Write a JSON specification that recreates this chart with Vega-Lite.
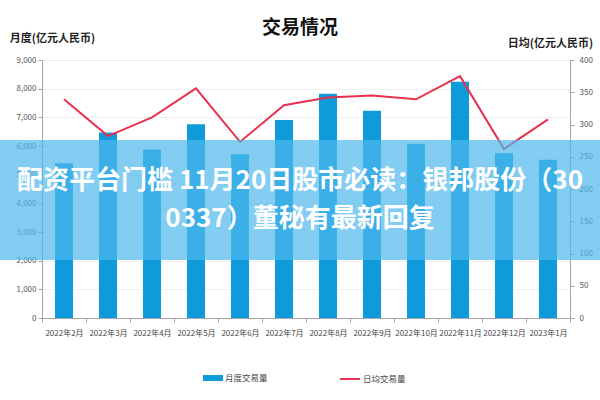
{
  "$schema": "https://vega.github.io/schema/vega-lite/v6.json",
  "width": 528,
  "height": 258,
  "autosize": {"type": "none"},
  "padding": {"left": 42, "top": 60, "right": 30, "bottom": 82},
  "background": "white",
  "title": {
    "text": "交易情况",
    "font": "Noto Sans CJK SC",
    "fontSize": 19,
    "fontWeight": "bold",
    "color": "#111111",
    "anchor": "middle",
    "dx": -6,
    "offset": -6
  },
  "config": {
    "view": {"stroke": null},
    "axis": {
      "labelFont": "Noto Sans CJK SC",
      "labelFontSize": 8,
      "labelColor": "#555555",
      "domainColor": "#a6a6a6",
      "tickColor": "#a6a6a6",
      "titleFont": "Noto Sans CJK SC"
    },
    "legend": {
      "labelFont": "Noto Sans CJK SC",
      "labelFontSize": 8.5,
      "labelColor": "#444444"
    }
  },
  "layer": [
    {
      "data": {"name": "trade", "values": [
        {"month": "2022年2月", "monthly": 5400, "daily": 339},
        {"month": "2022年3月", "monthly": 6470, "daily": 282},
        {"month": "2022年4月", "monthly": 5880, "daily": 311},
        {"month": "2022年5月", "monthly": 6760, "daily": 356},
        {"month": "2022年6月", "monthly": 5710, "daily": 273},
        {"month": "2022年7月", "monthly": 6910, "daily": 330},
        {"month": "2022年8月", "monthly": 7820, "daily": 342},
        {"month": "2022年9月", "monthly": 7230, "daily": 345},
        {"month": "2022年10月", "monthly": 6080, "daily": 339},
        {"month": "2022年11月", "monthly": 8240, "daily": 375},
        {"month": "2022年12月", "monthly": 5745, "daily": 262},
        {"month": "2023年1月", "monthly": 5520, "daily": 308}
      ]},
      "mark": {"type": "bar", "width": {"band": 0.41}},
      "encoding": {
        "x": {
          "field": "month", "type": "nominal", "sort": null,
          "scale": {"paddingInner": 0, "paddingOuter": 0},
          "axis": {"title": null, "labelAngle": 0, "tickBand": "extent", "tickSize": 4, "labelPadding": 7, "labelFontSize": 8, "labelColor": "#444444"}
        },
        "y": {
          "field": "monthly", "type": "quantitative",
          "scale": {"domain": [0, 9000], "nice": false},
          "axis": {
            "orient": "left",
            "values": [0, 1000, 2000, 3000, 4000, 5000, 6000, 7000, 8000, 9000],
            "format": ",.0f",
            "tickSize": 4,
            "labelPadding": 2,
            "grid": true,
            "gridColor": "#eeeeee",
            "title": "月度(亿元人民币)",
            "titleAngle": 0,
            "titleX": 10,
            "titleY": -22,
            "titleAlign": "center",
            "titleBaseline": "middle",
            "titleFontSize": 11,
            "titleFontWeight": "bold",
            "titleColor": "#222222"
          }
        },
        "fill": {
          "datum": "月度交易量",
          "scale": {"range": ["#0f9ad9"]},
          "legend": {
            "title": null,
            "orient": "none",
            "legendX": 161,
            "legendY": 308,
            "symbolType": "M-1,-0.3H1V0.3H-1Z",
            "symbolSize": 400,
            "symbolStrokeWidth": 0,
            "labelOffset": 2
          }
        }
      }
    },
    {
      "data": {"name": "trade"},
      "mark": {"type": "line", "strokeWidth": 2},
      "encoding": {
        "x": {"field": "month", "type": "nominal", "sort": null},
        "y": {
          "field": "daily", "type": "quantitative",
          "scale": {"domain": [0, 400], "nice": false},
          "axis": {
            "orient": "right",
            "values": [0, 50, 100, 150, 200, 250, 300, 350, 400],
            "format": ".0f",
            "tickSize": 4,
            "labelPadding": 5,
            "grid": false,
            "title": "日均(亿元人民币)",
            "titleAngle": 0,
            "titleX": -20,
            "titleY": -17,
            "titleAlign": "center",
            "titleBaseline": "middle",
            "titleFontSize": 11,
            "titleFontWeight": "bold",
            "titleColor": "#222222"
          }
        },
        "stroke": {
          "datum": "日均交易量",
          "scale": {"range": ["#e8314f"]},
          "legend": {
            "title": null,
            "orient": "none",
            "legendX": 297,
            "legendY": 308,
            "symbolType": "stroke",
            "symbolSize": 400,
            "symbolStrokeWidth": 2,
            "labelOffset": 2
          }
        }
      }
    },
    {
      "data": {"values": [{"band": "overlay"}]},
      "mark": {"type": "rect", "fill": "#4fb8ee", "opacity": 0.7},
      "encoding": {
        "x": {"value": -42},
        "x2": {"value": 558},
        "y": {"value": 80},
        "y2": {"value": 200}
      }
    },
    {
      "data": {"values": [{"band": "overlay"}]},
      "mark": {
        "type": "text",
        "text": ["配资平台门槛 11月20日股市必读：银邦股份（30", "0337）董秘有最新回复"],
        "font": "Noto Sans CJK SC",
        "fontSize": 26,
        "fontWeight": "bold",
        "color": "white",
        "align": "center",
        "baseline": "middle",
        "lineHeight": 38
      },
      "encoding": {
        "x": {"value": 258},
        "y": {"value": 121}
      }
    }
  ],
  "resolve": {"scale": {"y": "independent"}}
}
